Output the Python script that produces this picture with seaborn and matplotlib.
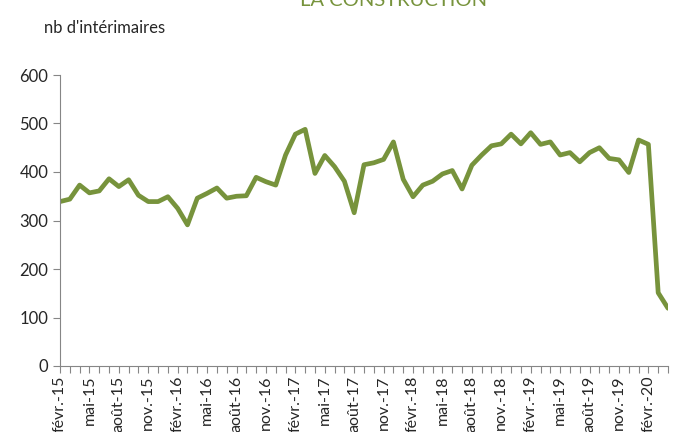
import matplotlib
matplotlib.use("Agg")
import matplotlib.pyplot as plt
import seaborn as sns
import pandas as pd
import numpy as np

# monthly temp-worker counts, févr.-15 .. avr.-20
values = [339, 344, 373, 357, 361, 386, 370, 384, 352, 339,
          339, 349, 325, 291, 346, 356, 367, 346, 350, 351,
          389, 380, 373, 435, 478, 488, 397, 434, 411, 381,
          316, 415, 419, 426, 462, 385, 349, 373, 381, 396,
          403, 365, 414, 435, 454, 458, 478, 458, 481, 457,
          462, 435, 440, 421, 440, 450, 428, 425, 399, 466,
          457, 151, 119]
tick_labels = ["févr.-15", "mai-15", "août-15", "nov.-15",
               "févr.-16", "mai-16", "août-16", "nov.-16",
               "févr.-17", "mai-17", "août-17", "nov.-17",
               "févr.-18", "mai-18", "août-18", "nov.-18",
               "févr.-19", "mai-19", "août-19", "nov.-19",
               "févr.-20"]
title = "LA CONSTRUCTION"
ylabel = "nb d'intérimaires"

sns.set_style("white")
plt.rcParams['font.family'] = ['Lato', 'DejaVu Sans']

df = pd.DataFrame({"idx": np.arange(len(values)), "val": values})

fig = plt.figure(figsize=(6.8, 4.32), dpi=100)
ax = fig.add_axes([60/680, 66/432, 608/680, 291/432])
sns.lineplot(data=df, x="idx", y="val", ax=ax, color="#77933C", linewidth=3.4)

ax.set_xlim(0, len(values) - 1)
ax.set_ylim(0, 600)
ax.set_yticks(range(0, 601, 100))
ax.set_xticks(np.arange(0, 3 * len(tick_labels), 3))
ax.set_xticklabels(tick_labels, rotation=90, fontsize=11.5)
ax.set_xticks(np.arange(0, len(values)), minor=True)
ax.tick_params(axis='y', labelsize=12, length=5, width=0.8, color="#868686", direction='out', left=True)
ax.tick_params(axis='x', which='both', length=5, width=0.8, color="#868686", direction='out', bottom=True, pad=2)
ax.set_xlabel("")
ax.set_ylabel("")
for s in ["top", "right"]:
    ax.spines[s].set_visible(False)
for s in ["left", "bottom"]:
    ax.spines[s].set_color("#868686")
    ax.spines[s].set_linewidth(0.8)

fig.text(44/680, 1 - 28/432, ylabel, fontsize=12, va='center', ha='left')
fig.text(394/680, 1 - 1/432, title, fontsize=14.5, color="#77933C", va='center', ha='center')

fig.savefig("out.png", dpi=100)
